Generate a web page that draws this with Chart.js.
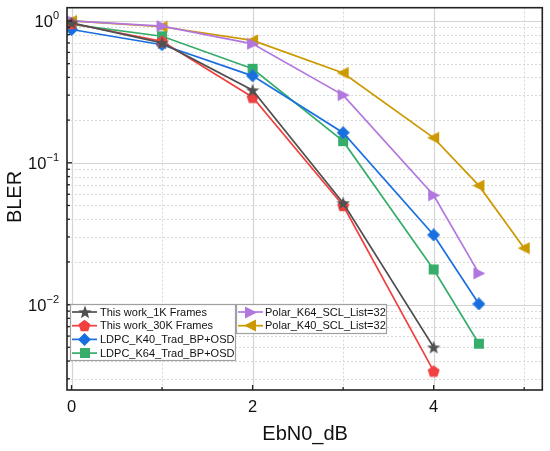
<!DOCTYPE html>
<html>
<head>
<meta charset="utf-8">
<script src="https://cdn.jsdelivr.net/npm/chart.js@4.4.1/dist/chart.umd.min.js"></script>
<style>
  html, body { margin: 0; padding: 0; background: #fff; }
  #wrap { width: 550px; height: 451px; }
</style>
</head>
<body>
<div id="wrap"><canvas id="blerChart" width="550" height="451"></canvas></div>
<script>
// EbN0 values (dB) for each series
const ebn0Short = [0, 1, 2, 3, 4];
const ebn0Mid = [0, 1, 2, 3, 4, 4.5];
const ebn0Long = [0, 1, 2, 3, 4, 4.5, 5];

// BLER
const work1k = [0.97, 0.70, 0.325, 0.052, 0.0050];
const work30k = [0.96, 0.72, 0.29, 0.050, 0.0034];
const ldpcK40 = [0.87, 0.68, 0.41, 0.163, 0.031, 0.0101];
const ldpcK64 = [0.945, 0.78, 0.46, 0.142, 0.0177, 0.0053];
const polarK64 = [1.0, 0.92, 0.69, 0.30, 0.059, 0.0166];
const polarK40 = [1.0, 0.91, 0.73, 0.43, 0.15, 0.069, 0.025];

const seriesNames = [
    'This work_1K Frames',
    'This work_30K Frames',
    'LDPC_K40_Trad_BP+OSD',
    'LDPC_K64_Trad_BP+OSD',
    'Polar_K64_SCL_List=32',
    'Polar_K40_SCL_List=32'
];

// axis ticks
const xMajorTicks = [0, 2, 4];
const xMinorTicks = [1, 3, 5];
const yDecades = [1, 0.1, 0.01];
const yExponents = ['0', '\u22121', '\u22122'];

const FONT = 'Arial, "Liberation Sans", sans-serif';

// draws a filled marker onto its own small canvas, used as pointStyle
function makeMarker(shape, color, size) {
    const c = document.createElement('canvas');
    c.width = size;
    c.height = size;
    const g = c.getContext('2d');
    const m = size / 2;
    g.fillStyle = color;
    g.beginPath();
    if (shape === 'star') {
        for (let i = 0; i < 10; i++) {
            const r = i % 2 === 0 ? m : m * 0.42;
            const a = -Math.PI / 2 + i * Math.PI / 5;
            g.lineTo(m + r * Math.cos(a), m + r * Math.sin(a) + 0.6);
        }
    } else if (shape === 'pentagon') {
        for (let i = 0; i < 5; i++) {
            const a = -Math.PI / 2 + i * 2 * Math.PI / 5;
            g.lineTo(m + m * 0.97 * Math.cos(a), m + m * 0.97 * Math.sin(a) + 0.6);
        }
    } else if (shape === 'diamond') {
        g.moveTo(m, 0);
        g.lineTo(size, m);
        g.lineTo(m, size);
        g.lineTo(0, m);
    } else if (shape === 'square') {
        g.rect(1, 1, size - 2, size - 2);
    } else if (shape === 'right') {
        g.moveTo(size, m);
        g.lineTo(1, 0.5);
        g.lineTo(1, size - 0.5);
    } else if (shape === 'left') {
        g.moveTo(0, m);
        g.lineTo(size - 1, 0.5);
        g.lineTo(size - 1, size - 0.5);
    }
    g.closePath();
    g.fill();
    return c;
}

const colors = ['#515151', '#F14040', '#1A6FDF', '#37AD6B', '#B177DE', '#CC9900'];
const markers = [
    makeMarker('star', colors[0], 14),
    makeMarker('pentagon', colors[1], 13),
    makeMarker('diamond', colors[2], 13),
    makeMarker('square', colors[3], 12),
    makeMarker('right', colors[4], 13),
    makeMarker('left', colors[5], 13)
];

function toPoints(xs, ys) {
    return xs.map((x, i) => ({ x: x, y: ys[i] }));
}

const seriesData = [
    toPoints(ebn0Short, work1k),
    toPoints(ebn0Short, work30k),
    toPoints(ebn0Mid, ldpcK40),
    toPoints(ebn0Mid, ldpcK64),
    toPoints(ebn0Mid, polarK64),
    toPoints(ebn0Long, polarK40)
];

const datasets = seriesData.map((pts, i) => ({
    label: seriesNames[i],
    data: pts,
    borderColor: colors[i],
    backgroundColor: colors[i],
    borderWidth: 1.7,
    pointStyle: markers[i],
    pointRadius: 6,
    tension: 0,
    fill: false
}));

// grid, frame, ticks, labels and legend are drawn here to copy the Origin look
const framePlugin = {
    id: 'frame',
    beforeDatasetsDraw(chart) {
        const { ctx, chartArea: a, scales: { x, y } } = chart;
        ctx.save();
        ctx.lineWidth = 1;
        // minor grid, dotted
        ctx.strokeStyle = '#d8d8d8';
        ctx.setLineDash([2, 2]);
        xMinorTicks.forEach(v => {
            const px = Math.round(x.getPixelForValue(v)) + 0.5;
            ctx.beginPath(); ctx.moveTo(px, a.top); ctx.lineTo(px, a.bottom); ctx.stroke();
        });
        [1, 0.1, 0.01, 0.001].forEach(d => {
            for (let k = 2; k <= 9; k++) {
                const v = d * k;
                if (v < y.min || v > y.max) continue;
                const py = Math.round(y.getPixelForValue(v)) + 0.5;
                ctx.beginPath(); ctx.moveTo(a.left, py); ctx.lineTo(a.right, py); ctx.stroke();
            }
        });
        // major grid, solid
        ctx.setLineDash([]);
        ctx.strokeStyle = '#d4d4d4';
        ctx.lineWidth = 1.2;
        xMajorTicks.forEach(v => {
            const px = Math.round(x.getPixelForValue(v)) + 0.5;
            ctx.beginPath(); ctx.moveTo(px, a.top); ctx.lineTo(px, a.bottom); ctx.stroke();
        });
        yDecades.forEach(v => {
            const py = Math.round(y.getPixelForValue(v)) + 0.5;
            ctx.beginPath(); ctx.moveTo(a.left, py); ctx.lineTo(a.right, py); ctx.stroke();
        });
        ctx.restore();
    },
    afterDraw(chart) {
        const { ctx, chartArea: a, scales: { x, y } } = chart;
        ctx.save();
        // frame
        ctx.strokeStyle = '#222';
        ctx.lineWidth = 1.6;
        ctx.strokeRect(a.left, a.top, a.right - a.left, a.bottom - a.top);

        // inward ticks
        ctx.lineWidth = 1.3;
        xMajorTicks.forEach(v => {
            const px = x.getPixelForValue(v);
            ctx.beginPath(); ctx.moveTo(px, a.bottom); ctx.lineTo(px, a.bottom - 5); ctx.stroke();
        });
        xMinorTicks.forEach(v => {
            const px = x.getPixelForValue(v);
            ctx.beginPath(); ctx.moveTo(px, a.bottom); ctx.lineTo(px, a.bottom - 3); ctx.stroke();
        });
        yDecades.forEach(v => {
            const py = y.getPixelForValue(v);
            ctx.beginPath(); ctx.moveTo(a.left, py); ctx.lineTo(a.left + 5, py); ctx.stroke();
        });
        [1, 0.1, 0.01, 0.001].forEach(d => {
            for (let k = 2; k <= 9; k++) {
                const v = d * k;
                if (v < y.min || v > y.max) continue;
                const py = y.getPixelForValue(v);
                ctx.beginPath(); ctx.moveTo(a.left, py); ctx.lineTo(a.left + 3, py); ctx.stroke();
            }
        });

        // tick labels
        ctx.fillStyle = '#111';
        ctx.font = '16.5px ' + FONT;
        ctx.textAlign = 'center';
        ctx.textBaseline = 'middle';
        xMajorTicks.forEach(v => {
            ctx.fillText(String(v), x.getPixelForValue(v), a.bottom + 17);
        });
        yDecades.forEach((v, i) => {
            const py = y.getPixelForValue(v);
            ctx.font = '11px ' + FONT;
            const supW = ctx.measureText(yExponents[i]).width;
            const right = a.left - 8;
            ctx.textAlign = 'right';
            ctx.fillText(yExponents[i], right, py - 5);
            ctx.font = '16.5px ' + FONT;
            ctx.fillText('10', right - supW, py + 2);
        });

        // axis titles
        ctx.font = '20px ' + FONT;
        ctx.textAlign = 'center';
        ctx.fillText('EbN0_dB', (a.left + a.right) / 2 + 0.5, 434);
        ctx.save();
        ctx.translate(15, 197);
        ctx.rotate(-Math.PI / 2);
        ctx.fillText('BLER', 0, 0);
        ctx.restore();

        // legend, two boxes inside the plot
        const boxes = [
            { x0: 70, y0: 304, x1: 235, y1: 360, items: [0, 1, 2, 3], lx: 72, tx: 100 },
            { x0: 236, y0: 304, x1: 386, y1: 333, items: [4, 5], lx: 238, tx: 265 }
        ];
        boxes.forEach(b => {
            ctx.fillStyle = 'rgba(255,255,255,0.95)';
            ctx.fillRect(b.x0, b.y0, b.x1 - b.x0, b.y1 - b.y0);
            ctx.strokeStyle = '#a0a0a0';
            ctx.lineWidth = 1.2;
            ctx.strokeRect(b.x0 + 0.5, b.y0 + 0.5, b.x1 - b.x0, b.y1 - b.y0);
            b.items.forEach((idx, r) => {
                const cy = b.y0 + 8 + r * 13.7;
                ctx.strokeStyle = colors[idx];
                ctx.lineWidth = 1.7;
                ctx.beginPath(); ctx.moveTo(b.lx, cy); ctx.lineTo(b.lx + 25, cy); ctx.stroke();
                const mk = markers[idx];
                ctx.drawImage(mk, Math.round(b.lx + 12.5 - mk.width / 2), Math.round(cy - mk.height / 2));
                ctx.fillStyle = '#111';
                ctx.font = '11px ' + FONT;
                ctx.textAlign = 'left';
                ctx.textBaseline = 'middle';
                ctx.fillText(seriesNames[idx], b.tx, cy + 0.5);
            });
        });
        ctx.restore();
    }
};

new Chart(document.getElementById('blerChart').getContext('2d'), {
    type: 'line',
    data: { datasets: datasets },
    options: {
        responsive: false,
        animation: false,
        layout: { padding: { left: 67, right: 6, top: 6, bottom: 61 } },
        plugins: {
            legend: { display: false },
            tooltip: { enabled: false }
        },
        scales: {
            x: { type: 'linear', min: -0.05, max: 5.2, display: false },
            y: { type: 'logarithmic', min: 0.0025, max: 1.24, display: false }
        }
    },
    plugins: [framePlugin]
});
</script>
</body>
</html>
